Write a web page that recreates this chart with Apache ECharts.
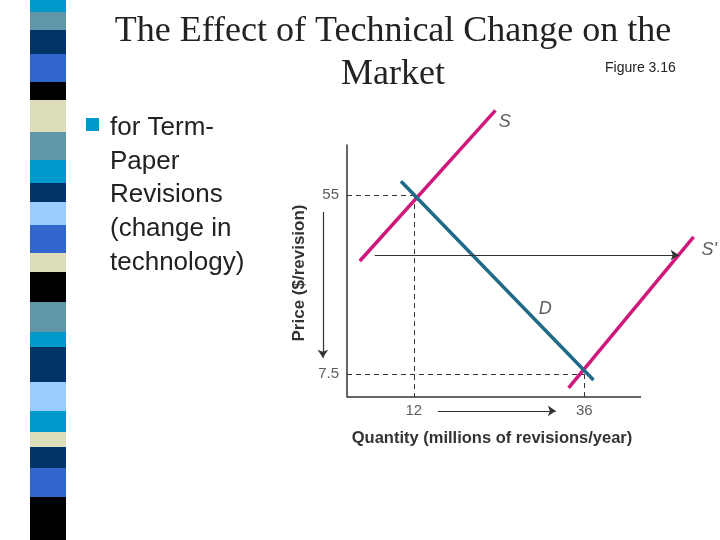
<!DOCTYPE html>
<html><head><meta charset="utf-8">
<script src="https://cdn.jsdelivr.net/npm/echarts@6/dist/echarts.min.js"></script>
<style>body{margin:0}#c{width:720px;height:540px}</style></head>
<body><div id="c"></div>
<script>
const supplyS = [[4.4, 37.5], [23.5, 77.5]];
const supplyS2 = [[33.8, 3.8], [51.4, 43.9]];
const demandD = [[10.2, 58.7], [37.3, 5.9]];
const shiftArrow = [[6.5, 39.1], [49.3, 39.1]];
const priceArrow = [[-0.8, 50.5], [-0.8, 11.8]];
const qtyArrow = [[15.4, -2.3], [32, -2.3]];
const equilibria = [[12, 55], [36, 7.5]];
const tickLabelsY = [[55, '55'], [7.5, '7.5']];
const tickLabelsX = [[12, '12'], [36, '36']];
const curveLabels = [[24.8, 74.4, 'S'], [53.6, 40.4, "S'"], [30.5, 24.8, 'D']];
const xMin = 2.6, xAxisEnd = 44, xMax = 53, yMin = 1.4, yMax = 68.3;
const stripes = [[0,12,'#0099cc'],[12,30,'#5f96a8'],[30,54,'#003366'],[54,82,'#3366cc'],[82,100,'#000000'],[100,132,'#ddddbb'],[132,160,'#5f96a8'],[160,183,'#0099cc'],[183,202,'#003366'],[202,225,'#99ccff'],[225,253,'#3366cc'],[253,272,'#ddddbb'],[272,302,'#000000'],[302,332,'#5f96a8'],[332,347,'#0099cc'],[347,382,'#003366'],[382,411,'#99ccff'],[411,432,'#0099cc'],[432,447,'#ddddbb'],[447,468,'#003366'],[468,497,'#3366cc'],[497,540,'#000000']];

const dashes = [];
equilibria.forEach(p => {
  dashes.push({coords:[[xMin, p[1]], [p[0], p[1]]]});
  dashes.push({coords:[[p[0], p[1]], [p[0], yMin]]});
});
function seg(coords, color, width, extra) {
  return Object.assign({type:'lines', coordinateSystem:'cartesian2d', clip:false, silent:true,
    data:[{coords}], symbol:'none', lineStyle:{color, width, opacity:1}}, extra||{});
}
const arrowExtra = {symbol:['none','arrow'], symbolSize:8};
const series = [
  {type:'lines', coordinateSystem:'cartesian2d', clip:false, silent:true, data:dashes, symbol:'none',
   lineStyle:{color:'#333', width:1, type:[5,4], opacity:1}},
  seg([[xMin, yMin], [xAxisEnd, yMin]], '#333', 1.5),
  seg(supplyS, '#d0187c', 3.5),
  seg(supplyS2, '#d0187c', 3.5),
  seg(demandD, '#1f6b87', 3.5),
  seg(shiftArrow, '#333', 1.2, arrowExtra),
  seg(priceArrow, '#333', 1.2, arrowExtra),
  seg(qtyArrow, '#333', 1.2, arrowExtra),
  {type:'scatter', symbolSize:0, clip:false, silent:true,
   data: tickLabelsY.map(t => ({value:[xMin, t[0]], name:t[1]})),
   label:{show:true, position:'left', distance:8, formatter:p=>p.name, fontFamily:'Liberation Sans', fontSize:15, color:'#333'}},
  {type:'scatter', symbolSize:0, clip:false, silent:true,
   data: tickLabelsX.map(t => ({value:[t[0], yMin], name:t[1]})),
   label:{show:true, position:'bottom', distance:6, formatter:p=>p.name, fontFamily:'Liberation Sans', fontSize:15, color:'#333'}},
  {type:'scatter', symbolSize:0, clip:false, silent:true,
   data: curveLabels.map(t => ({value:[t[0], t[1]], name:t[2]})),
   label:{show:true, position:'inside', formatter:p=>p.name, fontFamily:'Liberation Sans', fontStyle:'italic', fontSize:18, color:'#333'}}
];
const graphic = stripes.map(s => ({type:'rect', shape:{x:30, y:s[0], width:36, height:s[1]-s[0]}, style:{fill:s[2]}}));
graphic.push(
  {type:'text', x:393, y:32, style:{text:'The Effect of Technical Change on the', font:'36px "Liberation Serif"', fill:'#222', textAlign:'center', textVerticalAlign:'middle'}},
  {type:'text', x:393, y:75, style:{text:'Market', font:'36px "Liberation Serif"', fill:'#222', textAlign:'center', textVerticalAlign:'middle'}},
  {type:'text', x:605, y:68, style:{text:'Figure 3.16', font:'14px "Liberation Sans"', fill:'#222', textVerticalAlign:'middle'}},
  {type:'rect', shape:{x:86, y:118, width:13, height:13}, style:{fill:'#0099cc'}},
  {type:'text', x:110, y:111, style:{text:'for Term-\nPaper\nRevisions\n(change in\ntechnology)', font:'26px "Liberation Sans"', lineHeight:33.7, fill:'#222'}},
  {type:'text', x:299, y:273, rotation:Math.PI/2, style:{text:'Price ($/revision)', font:'bold 17px "Liberation Sans"', fill:'#333', textAlign:'center', textVerticalAlign:'middle'}},
  {type:'text', x:492, y:438, style:{text:'Quantity (millions of revisions/year)', font:'bold 16.5px "Liberation Sans"', fill:'#333', textAlign:'center', textVerticalAlign:'middle'}}
);
const chart = echarts.init(document.getElementById('c'));
chart.setOption({
  animation:false, backgroundColor:'#fff',
  grid:{left:347, right:15, top:145, bottom:143},
  xAxis:{type:'value', min:xMin, max:xMax, splitLine:{show:false}, axisTick:{show:false}, axisLabel:{show:false}, axisLine:{show:false}},
  yAxis:{type:'value', min:yMin, max:yMax, splitLine:{show:false}, axisTick:{show:false}, axisLabel:{show:false}, axisLine:{show:true, lineStyle:{color:'#333', width:1.5}}},
  graphic, series
});
</script></body></html>
